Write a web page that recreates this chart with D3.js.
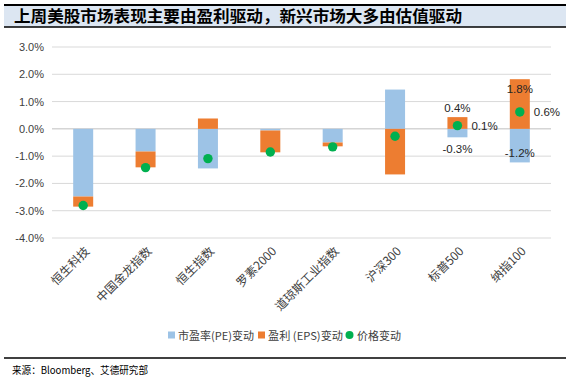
<!DOCTYPE html>
<html><head><meta charset="utf-8">
<script src="https://cdn.jsdelivr.net/npm/d3@7"></script>
<style>body{margin:0;background:#fff}svg{display:block}</style>
</head><body>
<svg id="chart" width="571" height="382"></svg>
<script>
const categories = ["恒生科技","中国金龙指数","恒生指数","罗素2000","道琼斯工业指数","沪深300","标普500","纳指100"];
const peChange  = [-2.48,-0.83,-1.45,-0.06,-0.50, 1.44,-0.31,-1.23];
const epsChange = [-0.37,-0.58, 0.38,-0.80,-0.14,-1.67, 0.43, 1.82];
const priceChange = [-2.81,-1.42,-1.09,-0.85,-0.66,-0.27, 0.12, 0.62];
const labeledCategories = ["标普500","纳指100"];
const yTicks = [3,2,1,0,-1,-2,-3,-4];
const seriesNames = ["市盈率(PE)变动","盈利 (EPS)变动","价格变动"];
const title = "上周美股市场表现主要由盈利驱动，新兴市场大多由估值驱动";
const source = "来源：Bloomberg、艾德研究部";

const colors = {pe:"#9dc3e6", eps:"#ed7d31", price:"#00b050"};
const svg = d3.select("#chart");
const font = "'Noto Sans CJK SC','Microsoft YaHei',sans-serif";

// title bar
svg.append("rect").attr("x",4).attr("y",5).attr("width",562).attr("height",22).attr("fill","#dce6f2");
svg.append("line").attr("x1",4).attr("x2",566).attr("y1",5).attr("y2",5).attr("stroke","#000").attr("stroke-width",2);
svg.append("line").attr("x1",4).attr("x2",566).attr("y1",27).attr("y2",27).attr("stroke","#000").attr("stroke-width",1.5);
svg.append("text").attr("x",14).attr("y",22).text(title)
  .attr("font-family","'Noto Sans CJK SC',serif").attr("font-weight","bold").attr("font-size",16).attr("fill","#000")
  .attr("textLength",448).attr("lengthAdjust","spacingAndGlyphs");

const x = d3.scaleBand().domain(categories).range([52,551]);
const y = d3.scaleLinear().domain([-4,3]).range([238,47]);
const bw = 20;

// grid
svg.append("g").selectAll("line").data(yTicks).join("line")
  .attr("x1",52).attr("x2",551).attr("y1",d=>y(d)).attr("y2",d=>y(d))
  .attr("stroke",d=>d===0?"#bfbfbf":"#d9d9d9").attr("stroke-width",1);

// y axis labels
const yAxis = d3.axisLeft(y).tickValues(yTicks).tickFormat(d=>d.toFixed(1)+"%").tickSize(0).tickPadding(8);
const ga = svg.append("g").attr("transform","translate(52,0)").call(yAxis);
ga.select(".domain").remove();
ga.selectAll("text").attr("font-family","'Liberation Sans',Arial,sans-serif").attr("font-size",11).attr("fill","#404040").attr("x",-8);

// stacked segments (positive and negative stacked separately)
const segs = [];
categories.forEach((c,i)=>{
  let pos=0, neg=0;
  [["pe",peChange[i]],["eps",epsChange[i]]].forEach(([k,v])=>{
    let y0,y1;
    if(v>=0){y0=pos;y1=pos+v;pos=y1;} else {y0=neg;y1=neg+v;neg=y1;}
    segs.push({c,k,v,y0,y1});
  });
});
svg.append("g").selectAll("rect").data(segs).join("rect")
  .attr("x",d=>x(d.c)+x.bandwidth()/2-bw/2).attr("width",bw)
  .attr("y",d=>y(Math.max(d.y0,d.y1))).attr("height",d=>Math.abs(y(d.y0)-y(d.y1)))
  .attr("fill",d=>colors[d.k]);

// dots
svg.append("g").selectAll("circle").data(categories).join("circle")
  .attr("cx",d=>x(d)+x.bandwidth()/2).attr("cy",(d,i)=>y(priceChange[i])).attr("r",4.7).attr("fill",colors.price);

// data labels
const lab = svg.append("g").attr("font-family","'Liberation Sans',Arial,sans-serif").attr("font-size",11.5).attr("fill","#262626");
segs.filter(d=>labeledCategories.includes(d.c)).forEach(d=>{
  const cx = x(d.c)+x.bandwidth()/2;
  const top = y(Math.max(d.y0,d.y1)), bot = y(Math.min(d.y0,d.y1));
  const h = bot-top;
  let ty;
  if(d.v>=0) ty = h>25 ? top+14 : top-5;
  else ty = h>25 ? bot-5 : bot+16;
  lab.append("text").attr("x",cx).attr("y",ty).attr("text-anchor","middle").text(d.v.toFixed(1)+"%");
});
categories.forEach((c,i)=>{
  if(!labeledCategories.includes(c)) return;
  lab.append("text").attr("x",x(c)+x.bandwidth()/2+14).attr("y",y(priceChange[i])+4).text(priceChange[i].toFixed(1)+"%");
});

// x labels
svg.append("g").selectAll("text").data(categories).join("text")
  .attr("transform",d=>`translate(${x(d)+x.bandwidth()/2+4},249) rotate(-45)`)
  .attr("text-anchor","end").attr("dy","0.35em")
  .attr("font-family",font).attr("font-size",12).attr("fill","#404040").text(d=>d);

// legend
const lg = svg.append("g").attr("font-family",font).attr("font-size",11).attr("fill","#404040");
lg.append("rect").attr("x",168).attr("y",331.5).attr("width",7).attr("height",7).attr("fill",colors.pe);
lg.append("text").attr("x",178).attr("y",339.5).text(seriesNames[0]).attr("textLength",76).attr("lengthAdjust","spacingAndGlyphs");
lg.append("rect").attr("x",258).attr("y",331.5).attr("width",7).attr("height",7).attr("fill",colors.eps);
lg.append("text").attr("x",268).attr("y",339.5).text(seriesNames[1]).attr("textLength",75).attr("lengthAdjust","spacingAndGlyphs");
lg.append("circle").attr("cx",349.5).attr("cy",335).attr("r",4).attr("fill",colors.price);
lg.append("text").attr("x",357).attr("y",339.5).text(seriesNames[2]).attr("textLength",44).attr("lengthAdjust","spacingAndGlyphs");

// footer
svg.append("line").attr("x1",4).attr("x2",566).attr("y1",358).attr("y2",358).attr("stroke","#000").attr("stroke-width",1.5);
svg.append("text").attr("x",12).attr("y",374).text(source).attr("font-family","'Noto Sans CJK SC',monospace").attr("font-size",10.5).attr("fill","#000")
  .attr("textLength",136).attr("lengthAdjust","spacingAndGlyphs");
</script>
</body></html>
